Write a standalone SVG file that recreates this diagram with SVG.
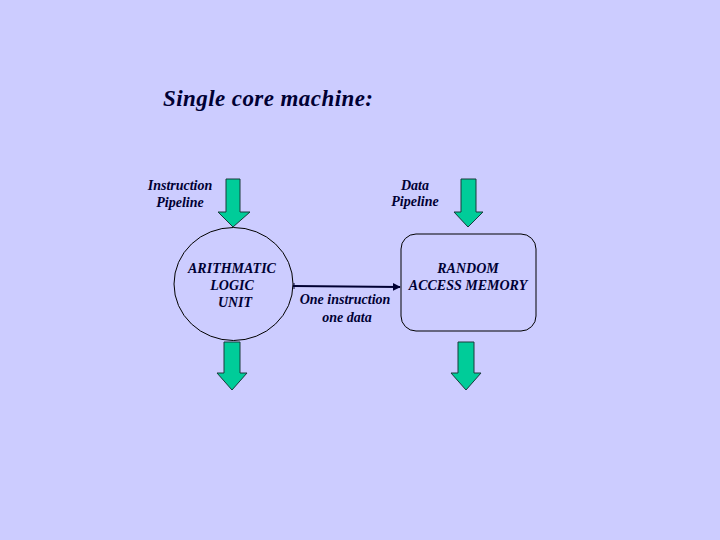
<svg xmlns="http://www.w3.org/2000/svg" width="720" height="540" viewBox="0 0 720 540">
<style>
text{font-family:"Liberation Serif","Times New Roman",serif;font-style:italic;font-weight:bold;fill:#000033;text-anchor:middle;font-size:14px}
.title{font-size:23px;text-anchor:start}
.arrow{fill:#00CC99;stroke:#1a3a3a;stroke-width:1}
.shape{fill:none;stroke:#000;stroke-width:1}
</style>
<defs>
<marker id="ah" viewBox="0 0 10 10" refX="9" refY="5" markerWidth="4" markerHeight="4" orient="auto"><path d="M0,0 L10,5 L0,10 z" fill="#000033"/></marker>
</defs>
<rect width="720" height="540" fill="#CCCCFF"/>
<text class="title" x="163" y="106" textLength="210">Single core machine:</text>
<g id="instr-label"><text x="180" y="190">Instruction</text><text x="180" y="207">Pipeline</text></g>
<g id="data-label"><text x="415" y="190">Data</text><text x="415" y="206">Pipeline</text></g>
<g id="arrow-instr-in"><path class="arrow" d="M226,179 H240 V212 H250 L233,227 L218,212 H226 Z"/></g>
<g id="arrow-alu-out"><path class="arrow" d="M224,342 H240 V373 H247 L232,390 L217,373 H224 Z"/></g>
<g id="arrow-data-in"><path class="arrow" d="M461,179 H476 V212 H483 L468,227 L454,212 H461 Z"/></g>
<g id="arrow-ram-out"><path class="arrow" d="M458,342 H474 V373 H481 L466,390 L451,373 H458 Z"/></g>
<g id="alu"><ellipse class="shape" cx="233.5" cy="284" rx="59.5" ry="56.5"/><text x="232" y="273">ARITHMATIC</text><text x="232" y="290">LOGIC</text><text x="235" y="307">UNIT</text></g>
<g id="ram"><rect class="shape" x="401" y="234" width="135" height="97" rx="15"/><text x="468" y="273">RANDOM</text><text x="468" y="290">ACCESS MEMORY</text></g>
<g id="connectors"><line x1="293" y1="286" x2="400" y2="287" stroke="#000033" stroke-width="2" marker-end="url(#ah)"/><line x1="294" y1="283" x2="294" y2="289" stroke="#000033" stroke-width="1"/></g>
<g id="conn-label"><text x="345" y="304">One instruction</text><text x="347" y="322">one data</text></g>
</svg>
